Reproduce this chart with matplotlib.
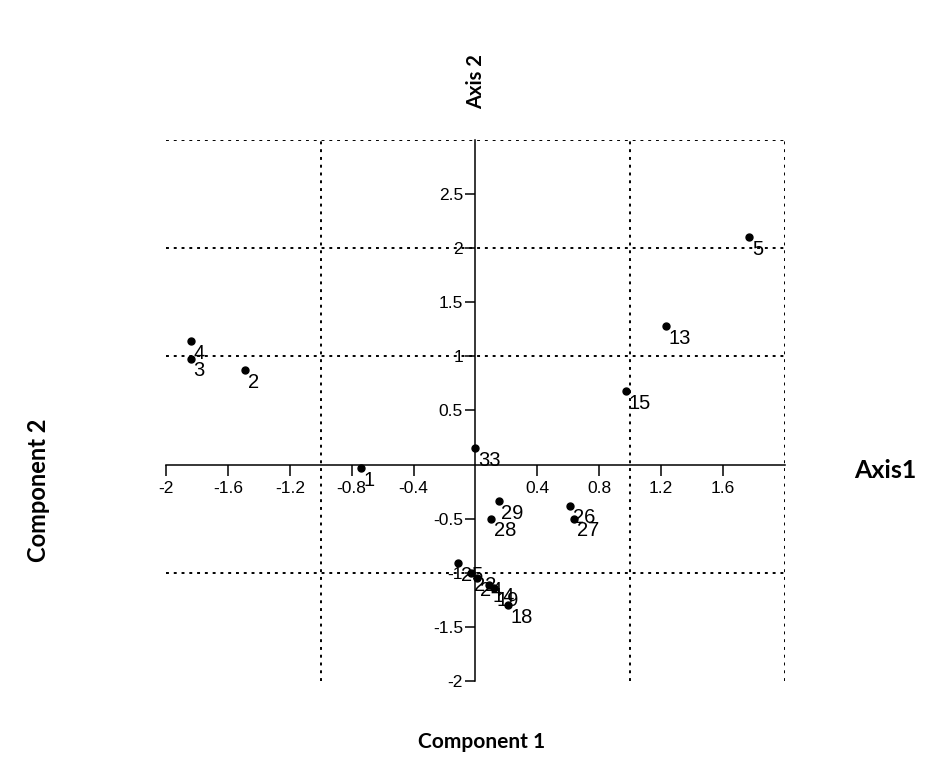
import matplotlib.pyplot as plt

# Координати точок (Component 1, Component 2) та їх номери
labels = ['5', '13', '15', '4', '3', '2', '1', '33', '29', '28', '26', '27',
          '18', '25', '22', '24', '14', '19']
comp1 = [1.77, 1.23, 0.97, -1.84, -1.84, -1.49, -0.74, 0.0, 0.15, 0.10, 0.61, 0.64,
         0.21, -0.11, -0.03, 0.01, 0.09, 0.12]
comp2 = [2.10, 1.28, 0.68, 1.14, 0.98, 0.87, -0.03, 0.15, -0.34, -0.50, -0.38, -0.50,
         -1.30, -0.91, -1.00, -1.05, -1.11, -1.14]

x_ticks = [-2, -1.6, -1.2, -0.8, -0.4, 0.4, 0.8, 1.2, 1.6]
x_tick_labels = ['-2', '-1.6', '-1.2', '-0.8', '-0.4', '0.4', '0.8', '1.2', '1.6']
y_ticks = [2.5, 2, 1.5, 1, 0.5, -0.5, -1, -1.5, -2]
y_tick_labels = ['2.5', '2', '1.5', '1', '0.5', '-0.5', '-1', '-1.5', '-2']
grid_x = [-1, 1, 2]
grid_y = [-1, 1, 2, 3]

plt.rcParams['font.family'] = ['Liberation Sans', 'DejaVu Sans']

fig = plt.figure(figsize=(9.25, 7.79), dpi=100)
ax = fig.add_axes([0.1795, 0.1258, 0.669, 0.6945])
ax.set_xlim(-2, 2)
ax.set_ylim(-2, 3)

# Пунктирна сітка
dots = (0, (1.5, 2.5))
ax.vlines(grid_x, -2, 3, colors='black', linestyles=dots, linewidth=1.4, zorder=1)
ax.hlines(grid_y, -2, 2, colors='black', linestyles=dots, linewidth=1.4, zorder=1)

# Осі через нуль
for side in ['top', 'right']:
    ax.spines[side].set_visible(False)
ax.spines['left'].set_position(('data', 0))
ax.spines['bottom'].set_position(('data', 0))
for side in ['left', 'bottom']:
    ax.spines[side].set_linewidth(1.1)
    ax.spines[side].set_zorder(2)

ax.set_xticks(x_ticks)
ax.set_xticklabels(x_tick_labels)
ax.set_yticks(y_ticks)
ax.set_yticklabels(y_tick_labels)
ax.tick_params(axis='x', direction='out', length=8, width=1.1, pad=4, labelsize=12.5)
ax.tick_params(axis='y', direction='out', length=7, width=1.1, pad=2, labelsize=12.5)

# Точки та підписи
ax.plot(comp1, comp2, 'o', color='black', markersize=5, zorder=3)
for lx, ly, name in zip(comp1, comp2, labels):
    ax.annotate(name, (lx, ly), xytext=(2, -2), textcoords='offset points',
                ha='left', va='top', fontsize=14.5, zorder=4)

bold = dict(fontweight='bold', family=['Lato', 'DejaVu Sans'], ha='center', va='center')
fig.text(476 / 925, 1 - 82 / 779, 'Axis 2', rotation=90, fontsize=14.5, **bold)
fig.text(885 / 925, 1 - 470 / 779, 'Axis1', fontsize=18, **bold)
fig.text(38 / 925, 1 - 490 / 779, 'Component 2', rotation=90, fontsize=17, **bold)
fig.text(482 / 925, 1 - 742 / 779, 'Component 1', fontsize=15, **bold)

fig.savefig('out.png', dpi=100)
